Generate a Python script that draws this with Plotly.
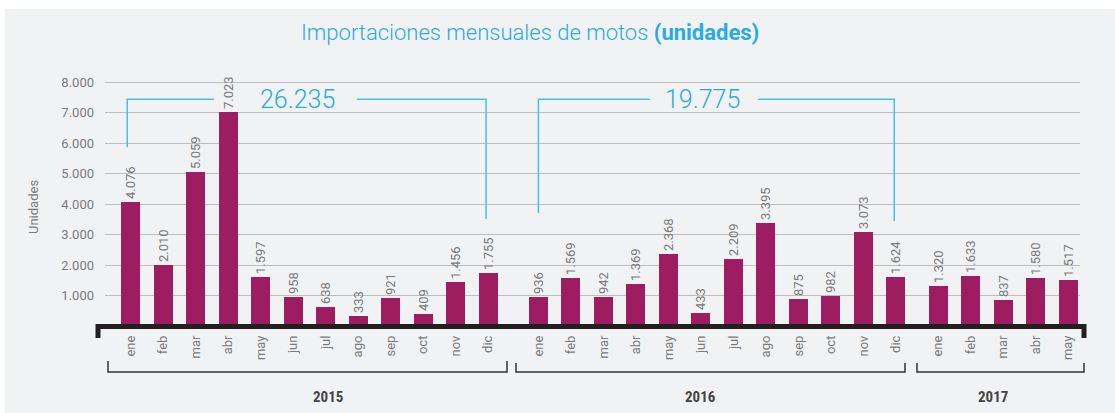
import plotly.graph_objects as go

# data
meses_2015 = ['ene', 'feb', 'mar', 'abr', 'may', 'jun', 'jul', 'ago', 'sep', 'oct', 'nov', 'dic']
unid_2015 = [4076, 2010, 5059, 7023, 1597, 958, 638, 333, 921, 409, 1456, 1755]
meses_2016 = ['ene', 'feb', 'mar', 'abr', 'may', 'jun', 'jul', 'ago', 'sep', 'oct', 'nov', 'dic']
unid_2016 = [936, 1569, 942, 1369, 2368, 433, 2209, 3395, 875, 982, 3073, 1624]
meses_2017 = ['ene', 'feb', 'mar', 'abr', 'may']
unid_2017 = [1320, 1633, 837, 1580, 1517]
anios = ['2015', '2016', '2017']

# layout in pixels
W, H = 1115, 413
L, R, T, B = 105, 35, 73, 87
PW, PH = W - L - R, H - T - B

BAR_COLOR = '#9d1d60'
CYAN = '#29abe2'
GRAY_TXT = '#7a7a7a'
FONT = 'Roboto'


def px_x(px):
    return (px - L) / PW


def px_y(py):
    return (H - B - py) / PH


# x positions: one unit per month, with gaps between years
x_2015 = [i for i in range(len(unid_2015))]
x_2016 = [12.55 + i for i in range(len(unid_2016))]
x_2017 = [24.85 + i for i in range(len(unid_2017))]

xs = x_2015 + x_2016 + x_2017
ys = unid_2015 + unid_2016 + unid_2017
labels = meses_2015 + meses_2016 + meses_2017

fig = go.Figure()

fig.add_trace(go.Bar(
    x=xs, y=ys, width=0.585,
    marker=dict(color=BAR_COLOR, line_width=0),
    texttemplate='%{y:,d}', textposition='outside', textangle=-90,
    textfont=dict(family=FONT, size=13, color=GRAY_TXT),
    constraintext='none', cliponaxis=False, hoverinfo='x+y',
    showlegend=False
))

shapes = []

# white frame at top/left, gray panel
shapes.append(dict(type='rect', xref='paper', yref='paper',
                   x0=px_x(5), x1=px_x(W + 5), y0=px_y(9), y1=px_y(H + 5),
                   fillcolor='#f1f2f4', line_width=0, layer='below'))

# thick black base with hooks
shapes.append(dict(type='path', xref='paper', yref='paper',
                   path=f'M {px_x(98)},{px_y(338)} L {px_x(98)},{px_y(326.5)} '
                        f'L {px_x(1084)},{px_y(326.5)} L {px_x(1084)},{px_y(338)}',
                   line=dict(color='#231f20', width=5)))

# year brackets under the month labels
year_spans = [(108, 507, 361), (516, 905, 363), (917, 1084, 363)]
year_centers = [328, 700, 993]
for (a, b, top) in year_spans:
    shapes.append(dict(type='path', xref='paper', yref='paper',
                       path=f'M {px_x(a)},{px_y(top)} L {px_x(a)},{px_y(372)} '
                            f'L {px_x(b)},{px_y(372)} L {px_x(b)},{px_y(top)}',
                       line=dict(color='#333333', width=1.5)))

# total brackets (cyan)
tot_2015 = sum(unid_2015)
tot_2016 = sum(unid_2016)
Y_TOP = 7440
brackets = [
    # left x, left bottom, gap start, text x, gap end, right x, right bottom, total
    (x_2015[0] - 0.1, 5870, 2.57, 5.15, 6.97, x_2015[-1] - 0.06, 3510, tot_2015),
    (x_2016[0], 3705, 15.98, 17.6, 19.31, x_2016[-1] - 0.05, 3443, tot_2016),
]
line_c = dict(color='#45c0ec', width=1.5)
annotations = []
for (lx, lb, g0, tx, g1, rx, rb, tot) in brackets:
    shapes.append(dict(type='path', xref='x', yref='y',
                       path=f'M {lx},{lb} L {lx},{Y_TOP} L {g0},{Y_TOP}', line=line_c))
    shapes.append(dict(type='path', xref='x', yref='y',
                       path=f'M {g1},{Y_TOP} L {rx},{Y_TOP} L {rx},{rb}', line=line_c))
    annotations.append(dict(x=tx, y=Y_TOP, xref='x', yref='y', showarrow=False,
                            xanchor='center', yanchor='middle',
                            text=f'{tot:,}'.replace(',', '.'),
                            font=dict(family=FONT, size=25, color=CYAN, weight=300)))

# year labels
for yr, cx in zip(anios, year_centers):
    annotations.append(dict(x=px_x(cx), y=px_y(397), xref='paper', yref='paper',
                            xanchor='center', yanchor='middle',
                            showarrow=False, text=f'<b>{yr}</b>',
                            font=dict(family='Liberation Sans Narrow, Roboto Condensed, Roboto',
                                      size=15, color='#444444')))

# y axis title
annotations.append(dict(x=px_x(33), y=px_y(207), xref='paper', yref='paper',
                        xanchor='center', yanchor='middle',
                        showarrow=False, text='Unidades', textangle=-90,
                        font=dict(family=FONT, size=13, color=GRAY_TXT)))

# title
annotations.append(dict(x=px_x(530), y=px_y(32), xref='paper', yref='paper',
                        xanchor='center', yanchor='middle',
                        showarrow=False,
                        text='Importaciones mensuales de motos <b>(unidades)</b>',
                        font=dict(family=FONT, size=22, color=CYAN, weight=300)))

fig.update_layout(
    width=W, height=H,
    margin=dict(l=L, r=R, t=T, b=B, pad=0),
    paper_bgcolor='white', plot_bgcolor='rgba(0,0,0,0)',
    separators=',.',
    bargap=0,
    shapes=shapes, annotations=annotations,
    xaxis=dict(range=[-0.785, 29.215], tickvals=xs, ticktext=labels,
               tickangle=-90, showgrid=False, zeroline=False, showline=False,
               ticks='', ticklabelstandoff=6,
               tickfont=dict(family=FONT, size=13, color=GRAY_TXT)),
    yaxis=dict(range=[0, 8300], tickvals=[1000, 2000, 3000, 4000, 5000, 6000, 7000, 8000],
               tickformat=',d', showgrid=True, gridcolor='#bdbdbd', gridwidth=1.2,
               zeroline=False, showline=False, ticks='', ticklabelstandoff=10,
               tickfont=dict(family=FONT, size=13, color=GRAY_TXT)),
)

fig.write_html('out.html', config={'displayModeBar': False},
               post_script="document.body.style.margin='0';")
